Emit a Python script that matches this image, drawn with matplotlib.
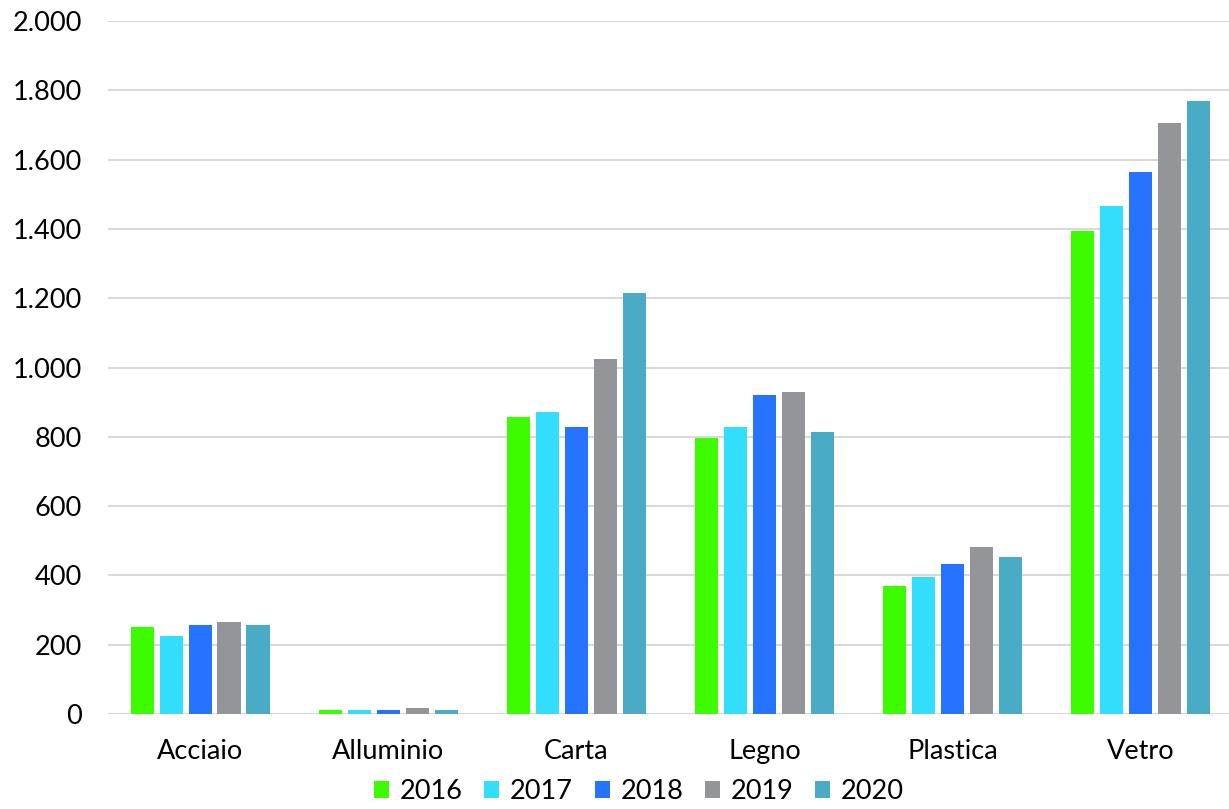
import matplotlib
matplotlib.use("Agg")
import matplotlib.pyplot as plt
import numpy as np

categories = ["Acciaio", "Alluminio", "Carta", "Legno", "Plastica", "Vetro"]
years = ["2016", "2017", "2018", "2019", "2020"]
v2016 = [250, 12, 856, 796, 369, 1395]
v2017 = [225, 12, 873, 828, 395, 1465]
v2018 = [258, 13, 828, 922, 433, 1563]
v2019 = [265, 17, 1024, 929, 482, 1705]
v2020 = [258, 12, 1216, 814, 453, 1768]
series = [v2016, v2017, v2018, v2019, v2020]
colors = ["#3DFC00", "#33DEFD", "#2673FF", "#939598", "#4AABC6"]
yticks = [0, 200, 400, 600, 800, 1000, 1200, 1400, 1600, 1800, 2000]
ytick_labels = ["0", "200", "400", "600", "800", "1.000", "1.200", "1.400", "1.600", "1.800", "2.000"]

plt.rcParams["font.family"] = ["Lato", "DejaVu Sans"]
fig = plt.figure(figsize=(12.29, 8.09), dpi=100)
ax = fig.add_axes([0.0879, 0.1174, 0.9121, 0.8566])

x = np.arange(len(categories))
step = 0.154
width = 0.124
for i, (vals, c, yr) in enumerate(zip(series, colors, years)):
    ax.bar(x + (i - 2) * step, vals, width=width, color=c, label=yr, zorder=3)

ax.set_ylim(0, 2000)
ax.set_xlim(-0.49, 5.47)
ax.set_yticks(yticks)
ax.set_yticklabels(ytick_labels, fontsize=19.5)
ax.set_xticks(x)
ax.set_xticklabels(categories, fontsize=19.5)
ax.tick_params(axis="both", length=0, colors="#000000")
ax.tick_params(axis="y", pad=19)
ax.tick_params(axis="x", pad=18)
ax.grid(axis="y", color="#D9D9D9", linewidth=1.5, zorder=0)
for s in ax.spines.values():
    s.set_visible(False)

fig.legend(loc="lower center", ncol=5, fontsize=19.5, frameon=False,
           bbox_to_anchor=(0.52, -0.024), handlelength=0.55, handleheight=0.55,
           handletextpad=0.4, columnspacing=0.8)

fig.savefig("out.png", dpi=100)
